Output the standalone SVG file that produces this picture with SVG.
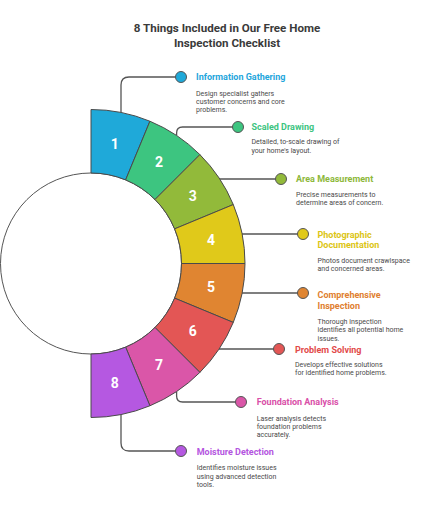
<svg xmlns="http://www.w3.org/2000/svg" width="432" height="512" viewBox="0 0 432 512">
<style>
.seg{stroke:#4a4a4a;stroke-width:1}
.num{font-family:Roboto,"Liberation Sans",sans-serif;font-weight:700;font-size:14px;fill:#fff;text-anchor:middle}
.conn{fill:none;stroke:#555;stroke-width:1.3}
.dot{stroke:#555;stroke-width:1}
.ttl{font-family:Roboto,"Liberation Sans",sans-serif;font-weight:700;font-size:9px}
.desc{font-family:Roboto,"Liberation Sans",sans-serif;font-size:7px;fill:#4a4a4a}
.head{font-family:Roboto,"Liberation Sans",sans-serif;font-weight:700;font-size:11.6px;fill:#3a3a3a;text-anchor:middle}
</style>
<rect width="432" height="512" fill="#fff"/>
<g id="title">
<text class="head" x="227" y="32">8 Things Included in Our Free Home</text>
<text class="head" x="227" y="46.5">Inspection Checklist</text>
</g>
<g id="connectors">
<path class="conn" d="M121,112.5 V85 Q121,77 129,77 H181"/>
<path class="conn" d="M176.6,135.5 V133 Q176.6,127 182.6,127 H238"/>
<path class="conn" d="M219,179 H281"/>
<path class="conn" d="M242,234 H303"/>
<path class="conn" d="M242,293 H303"/>
<path class="conn" d="M219,349 H279"/>
<path class="conn" d="M176.6,391.5 V396 Q176.6,402 182.6,402 H241"/>
<path class="conn" d="M121,414.5 V443 Q121,451 129,451 H181"/>
</g>
<g id="hub">
<circle cx="91" cy="263.5" r="90.5" fill="#fff" stroke="#555" stroke-width="1"/>
</g>
<g id="seg1">
<path class="seg" fill="#1fa9d9" d="M91,173 L91,109.5 A154,154 0 0 1 149.93,121.22 L125.63,179.89 A90.5,90.5 0 0 0 91,173 Z"/>
<text class="num" x="114.85" y="148.6">1</text>
</g>
<g id="seg2">
<path class="seg" fill="#3dc580" d="M125.63,179.89 L149.93,121.22 A154,154 0 0 1 199.89,154.61 L154.99,199.51 A90.5,90.5 0 0 0 125.63,179.89 Z"/>
<text class="num" x="158.92" y="166.85">2</text>
</g>
<g id="seg3">
<path class="seg" fill="#92ba3a" d="M154.99,199.51 L199.89,154.61 A154,154 0 0 1 233.28,204.57 L174.61,228.87 A90.5,90.5 0 0 0 154.99,199.51 Z"/>
<text class="num" x="192.65" y="200.58">3</text>
</g>
<g id="seg4">
<path class="seg" fill="#e0c91a" d="M174.61,228.87 L233.28,204.57 A154,154 0 0 1 245,263.5 L181.5,263.5 A90.5,90.5 0 0 0 174.61,228.87 Z"/>
<text class="num" x="210.9" y="244.65">4</text>
</g>
<g id="seg5">
<path class="seg" fill="#e08531" d="M181.5,263.5 L245,263.5 A154,154 0 0 1 233.28,322.43 L174.61,298.13 A90.5,90.5 0 0 0 181.5,263.5 Z"/>
<text class="num" x="210.9" y="292.35">5</text>
</g>
<g id="seg6">
<path class="seg" fill="#e35655" d="M174.61,298.13 L233.28,322.43 A154,154 0 0 1 199.89,372.39 L154.99,327.49 A90.5,90.5 0 0 0 174.61,298.13 Z"/>
<text class="num" x="192.65" y="336.42">6</text>
</g>
<g id="seg7">
<path class="seg" fill="#da56a8" d="M154.99,327.49 L199.89,372.39 A154,154 0 0 1 149.93,405.78 L125.63,347.11 A90.5,90.5 0 0 0 154.99,327.49 Z"/>
<text class="num" x="158.92" y="370.15">7</text>
</g>
<g id="seg8">
<path class="seg" fill="#b558e1" d="M125.63,347.11 L149.93,405.78 A154,154 0 0 1 91,417.5 L91,354 A90.5,90.5 0 0 0 125.63,347.11 Z"/>
<text class="num" x="114.85" y="388.4">8</text>
</g>
<g id="item1">
<circle class="dot" cx="181" cy="77" r="5.5" fill="#1fa9d9"/>
<text class="ttl" x="196" y="80" fill="#1fa6dc">Information Gathering</text>
<text class="desc" x="196" y="95.5">Design specialist gathers</text>
<text class="desc" x="196" y="103.8">customer concerns and core</text>
<text class="desc" x="196" y="112.1">problems.</text>
</g>
<g id="item2">
<circle class="dot" cx="238" cy="127" r="5.5" fill="#3dc580"/>
<text class="ttl" x="251.5" y="130" fill="#3cc47f">Scaled Drawing</text>
<text class="desc" x="251.5" y="144.3">Detailed, to-scale drawing of</text>
<text class="desc" x="251.5" y="152.6">your home's layout.</text>
</g>
<g id="item3">
<circle class="dot" cx="281" cy="179" r="5.5" fill="#92ba3a"/>
<text class="ttl" x="296" y="182.3" fill="#8db83a">Area Measurement</text>
<text class="desc" x="296" y="197">Precise measurements to</text>
<text class="desc" x="296" y="205.3">determine areas of concern.</text>
</g>
<g id="item4">
<circle class="dot" cx="303" cy="234" r="5.5" fill="#e0c91a"/>
<text class="ttl" x="317.5" y="237.5" fill="#dcc515">Photographic</text>
<text class="ttl" x="317.5" y="248" fill="#dcc515">Documentation</text>
<text class="desc" x="317.5" y="263">Photos document crawlspace</text>
<text class="desc" x="317.5" y="271.3">and concerned areas.</text>
</g>
<g id="item5">
<circle class="dot" cx="303" cy="293" r="5.5" fill="#e08531"/>
<text class="ttl" x="317.5" y="297.5" fill="#e08030">Comprehensive</text>
<text class="ttl" x="317.5" y="308.5" fill="#e08030">Inspection</text>
<text class="desc" x="317.5" y="324">Thorough inspection</text>
<text class="desc" x="317.5" y="332.3">identifies all potential home</text>
<text class="desc" x="317.5" y="340.6">issues.</text>
</g>
<g id="item6">
<circle class="dot" cx="279" cy="349" r="5.5" fill="#e35655"/>
<text class="ttl" x="295" y="352.5" fill="#e24a4a">Problem Solving</text>
<text class="desc" x="295" y="367">Develops effective solutions</text>
<text class="desc" x="295" y="375.3">for identified home problems.</text>
</g>
<g id="item7">
<circle class="dot" cx="241" cy="402" r="5.5" fill="#da56a8"/>
<text class="ttl" x="256.7" y="405" fill="#d94fa8">Foundation Analysis</text>
<text class="desc" x="256.7" y="420.5">Laser analysis detects</text>
<text class="desc" x="256.7" y="428.8">foundation problems</text>
<text class="desc" x="256.7" y="437.1">accurately.</text>
</g>
<g id="item8">
<circle class="dot" cx="181" cy="451" r="5.5" fill="#b558e1"/>
<text class="ttl" x="196.7" y="454.5" fill="#b455e0">Moisture Detection</text>
<text class="desc" x="196.7" y="470.3">Identifies moisture issues</text>
<text class="desc" x="196.7" y="478.6">using advanced detection</text>
<text class="desc" x="196.7" y="486.9">tools.</text>
</g>
</svg>
